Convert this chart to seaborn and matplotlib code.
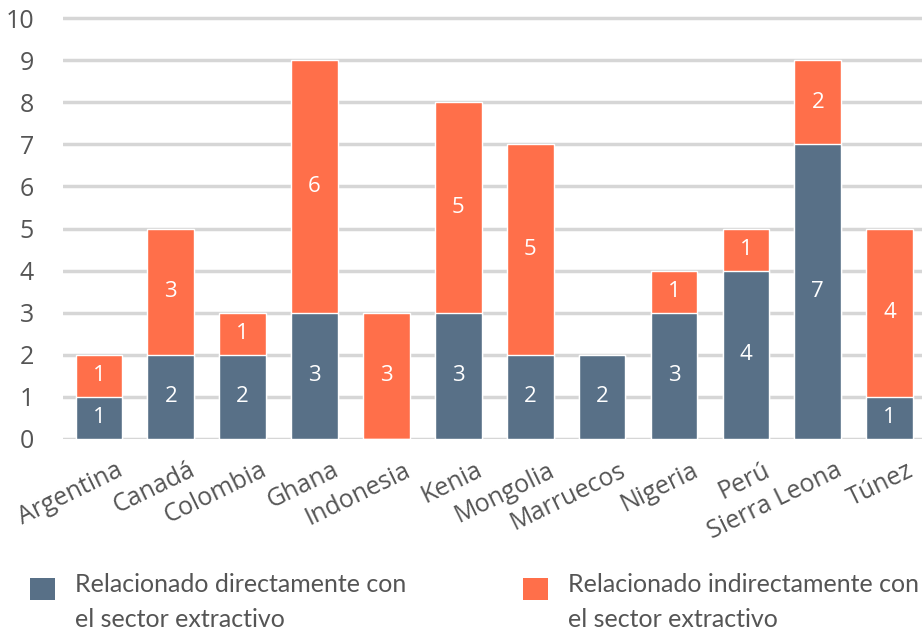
import matplotlib
matplotlib.use("Agg")
import matplotlib.pyplot as plt
import matplotlib.transforms as mtransforms
from matplotlib.patches import Rectangle
import pandas as pd
import seaborn as sns

# ==========================================================
# Data
# ==========================================================

countries = ["Argentina", "Canadá", "Colombia", "Ghana", "Indonesia", "Kenia",
             "Mongolia", "Marruecos", "Nigeria", "Perú", "Sierra Leona", "Túnez"]
direct   = [1, 2, 2, 3, 0, 3, 2, 2, 3, 4, 7, 1]
indirect = [1, 3, 1, 6, 3, 5, 5, 0, 1, 1, 2, 4]
y_ticks  = list(range(0, 11))
legend_labels = ["Relacionado directamente con\nel sector extractivo",
                 "Relacionado indirectamente con\nel sector extractivo"]

BLUE   = "#587087"
ORANGE = "#FF6F4A"
GREY   = "#555555"
W, H   = 922, 633

df = pd.DataFrame({"country": countries, "direct": direct, "indirect": indirect})
df["total"] = df["direct"] + df["indirect"]

# ==========================================================
# Plot
# ==========================================================

sns.set_style("white")
plt.rcParams["font.family"] = ["Open Sans", "DejaVu Sans"]

fig = plt.figure(figsize=(W / 100, H / 100), dpi=100)
ax = fig.add_axes([63 / W, 1 - 439 / H, 1 - 63 / W, (439 - 16) / H])

sns.barplot(data=df, x="country", y="total", color=ORANGE, width=0.65,
            saturation=1, ax=ax, zorder=2)
sns.barplot(data=df, x="country", y="direct", color=BLUE, width=0.65,
            saturation=1, ax=ax, zorder=3)

# value labels centred in each segment
for i, row in df.iterrows():
    if row["direct"] > 0:
        ax.text(i, row["direct"] / 2, str(row["direct"]), ha="center",
                va="center", color="white", fontsize=16, zorder=4)
    if row["indirect"] > 0:
        ax.text(i, row["direct"] + row["indirect"] / 2, str(row["indirect"]),
                ha="center", va="center", color="white", fontsize=16, zorder=4)

ax.set_ylim(0, 10.05)
ax.set_xlim(-0.5, 11.45)
ax.set_yticks(y_ticks)
ax.yaxis.grid(True, color="#D6D6D6", linewidth=2.5, zorder=0)
ax.set_axisbelow(True)
sns.despine(ax=ax, left=True, bottom=True)
ax.set_xlabel("")
ax.set_ylabel("")
ax.tick_params(axis="both", length=0, labelsize=18, labelcolor=GREY)
ax.tick_params(axis="y", pad=21)

offset = mtransforms.ScaledTranslation(0.17, -0.14, fig.dpi_scale_trans)
for lbl in ax.get_xticklabels():
    lbl.set_rotation(26)
    lbl.set_ha("right")
    lbl.set_va("top")
    lbl.set_rotation_mode("anchor")
    lbl.set_transform(lbl.get_transform() + offset)

# legend drawn by hand so squares sit beside the first text line
for (x0, colour, text) in [(30, BLUE, legend_labels[0]),
                           (523, ORANGE, legend_labels[1])]:
    fig.add_artist(Rectangle((x0 / W, 1 - 600 / H), 25 / W, 22 / H,
                             transform=fig.transFigure, facecolor=colour,
                             edgecolor="none"))
    fig.text((x0 + 45) / W, 1 - 573 / H, text, ha="left", va="top",
             family="Lato", fontsize=18, color=GREY, linespacing=1.65)

fig.savefig("out.png", dpi=100)
plt.close(fig)
